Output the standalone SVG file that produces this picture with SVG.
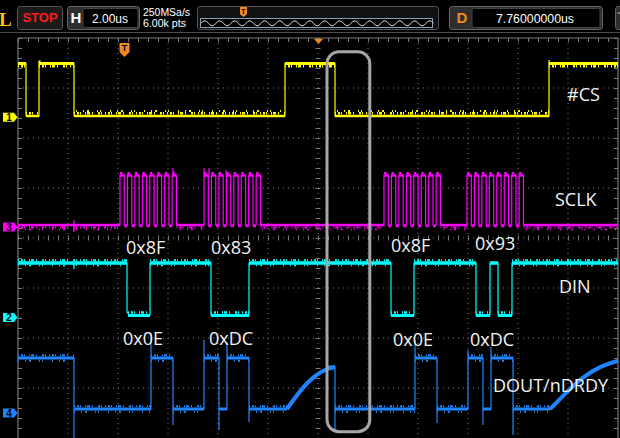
<svg xmlns="http://www.w3.org/2000/svg" width="620" height="438" viewBox="0 0 620 438">
<defs>
<style>
.grid{stroke:#7c7c7c;stroke-width:1;stroke-dasharray:1 4;fill:none}
.frame{stroke:#7a7a7a;stroke-width:1.2;fill:none}
.tick{stroke:#7a7a7a;stroke-dasharray:1 9;fill:none}
.edge{fill:none;stroke-width:1.2}
.n1{fill:none;stroke-dasharray:1 2 2 1 1 4 1 1 3 2 1 5 2 1 1 3}
.n2{fill:none;stroke-dasharray:1 6 1 3 2 8 1 2 1 9}
.lbl{font-family:"Open Sans","Noto Sans",sans-serif;font-size:18px;fill:#f2f2f2}
.ui{font-family:"Liberation Sans",Arial,sans-serif;fill:#fff}
.box{fill:#2e2e2e;stroke:#666;stroke-width:1}
.orange{fill:#f08a24}
.tag{font-family:"Liberation Sans",Arial,sans-serif;font-size:10px;font-weight:bold;fill:#000;text-anchor:middle}
.y{stroke:#ffff00}
.m{stroke:#ff00ff}
.c{stroke:#00ffff}
.b{stroke:#1f85ff}
</style>
</defs>
<rect x="0" y="0" width="620" height="438" fill="#000"/>

<g id="toolbar">
<line x1="0" y1="32.5" x2="620" y2="32.5" stroke="#4a4a4a" stroke-width="1"/>
<text x="-1" y="26" font-family="Liberation Serif,serif" font-weight="bold" font-size="19" fill="#f5c400">L</text>
<g id="stop-btn">
<rect x="17.5" y="6.5" width="45" height="23" rx="3" fill="#1a1a1a" stroke="#555"/>
<text x="40" y="22" class="ui" font-size="13" font-weight="bold" fill="#ff1a1a" text-anchor="middle" style="fill:#ff1a1a">STOP</text>
</g>
<g id="h-box">
<rect x="67.5" y="6.5" width="72" height="23" rx="3" class="box"/>
<rect x="83" y="8.5" width="55" height="19" rx="2" fill="#000" stroke="#444"/>
<text x="76" y="23" class="ui" font-size="15" font-weight="bold" text-anchor="middle">H</text>
<text x="110" y="23" class="ui" font-size="12" text-anchor="middle">2.00us</text>
</g>
<text x="143" y="16" class="ui" font-size="11" textLength="47" lengthAdjust="spacingAndGlyphs">250MSa/s</text>
<text x="143" y="27" class="ui" font-size="11" textLength="43" lengthAdjust="spacingAndGlyphs">6.00k pts</text>
<g id="overview">
<rect x="197.5" y="6.5" width="241" height="23" rx="3" fill="#111" stroke="#555"/>
<rect x="200.5" y="18.5" width="232" height="9" fill="#000" stroke="#8aa0b8" stroke-width="1"/>
<path d="M201,23.3q3.75,-5 7.5,0t7.5,0t7.5,0t7.5,0t7.5,0t7.5,0t7.5,0t7.5,0t7.5,0t7.5,0t7.5,0t7.5,0t7.5,0t7.5,0t7.5,0t7.5,0t7.5,0t7.5,0t7.5,0t7.5,0t7.5,0t7.5,0t7.5,0t7.5,0t7.5,0t7.5,0t7.5,0t7.5,0t7.5,0t7.5,0t7.5,0" fill="none" stroke="#e6e6e6" stroke-width="1"/>
<path d="M240,7H247V14L243.5,17L240,14Z" class="orange"/>
<text x="243.5" y="14" font-family="Liberation Sans,sans-serif" font-size="7" font-weight="bold" fill="#000" text-anchor="middle">T</text>
</g>
<g id="d-box">
<rect x="449.5" y="6.5" width="153" height="23" rx="3" class="box"/>
<rect x="472" y="8.5" width="128" height="19" rx="2" fill="#000" stroke="#444"/>
<text x="462" y="23" font-family="Liberation Sans,sans-serif" font-size="15" font-weight="bold" fill="#f08a24" text-anchor="middle">D</text>
<text x="535" y="23" class="ui" font-size="12" text-anchor="middle" textLength="78" lengthAdjust="spacingAndGlyphs">7.76000000us</text>
</g>
<rect x="615.5" y="6.5" width="20" height="23" rx="3" class="box"/>
<line x1="617" y1="13" x2="620" y2="13" stroke="#aaa" stroke-width="1"/>
</g>

<g id="graticule">
<path class="grid" d="M68,38V438M118,38V438M168,38V438M218,38V438M268,38V438M318,38V438M368,38V438M418,38V438M468,38V438M518,38V438M568,38V438M18,88H618M18,138H618M18,188H618M18,238H618M18,288H618M18,338H618M18,388H618"/>
<path class="frame" d="M18,438V38H618V438"/>
<line x1="18" y1="40" x2="618" y2="40" class="tick" stroke-width="4"/>
<line x1="20" y1="38" x2="20" y2="438" class="tick" stroke-width="4"/>
<line x1="616" y1="38" x2="616" y2="438" class="tick" stroke-width="4"/>
<line x1="18" y1="238" x2="618" y2="238" class="tick" stroke-width="5"/>
<line x1="318" y1="38" x2="318" y2="438" class="tick" stroke-width="5"/>
<path d="M119.5,43H129.5V52L124.5,57L119.5,52Z" class="orange"/>
<text x="124.5" y="51" font-family="Liberation Sans,sans-serif" font-size="9" font-weight="bold" fill="#000" text-anchor="middle">T</text>
<path d="M314,39H323L318.5,44Z" class="orange"/>
</g>

<g id="ch1-cs">
<path class="edge y" d="M18,63.5H26V116H39V61H40V63.5H74V68H74V116H285V63.5H335V116H549V60V63.5H618"/>
<path class="y" fill="none" stroke-width="3" d="M18,63.5H26M39,63.5H74M285,63.5H335M549,63.5H618"/>
<path class="y n1" stroke-width="2.4" d="M18,66.2H26M39,66.2H74M285,66.2H335M549,66.2H618"/>
<path class="y" fill="none" stroke-width="2.5" d="M26,116H39M74,116H285M335,116H549"/>
<path class="y n1" stroke-width="2.5" d="M26,113.2H39M74,113.2H285M335,113.2H549"/>
<path class="y n2" stroke-width="2" d="M76,111H285M337,111H549"/>
</g>

<g id="ch3-sclk">
<path class="edge m" d="M18,225H120V175h4.3V225h3.15V175h4.3V225h3.15V175h4.3V225h3.15V175h4.3V225h3.15V175h4.3V225h3.15V175h4.3V225h3.15V175h4.3V225h3.15V175h4.3V225H204V175h4.3V225h3.15V175h4.3V225h3.15V175h4.3V225h3.15V175h4.3V225h3.15V175h4.3V225h3.15V175h4.3V225h3.15V175h4.3V225h3.15V175h4.3V225H384V175h4.3V225h3.15V175h4.3V225h3.15V175h4.3V225h3.15V175h4.3V225h3.15V175h4.3V225h3.15V175h4.3V225h3.15V175h4.3V225h3.15V175h4.3V225H467V175h4.3V225h3.15V175h4.3V225h3.15V175h4.3V225h3.15V175h4.3V225h3.15V175h4.3V225h3.15V175h4.3V225h3.15V175h4.3V225h3.15V175h4.3V225H618"/>
<path class="m" fill="none" stroke-width="2.5" stroke-dasharray="4.3 3.15" d="M120,175.5H177M204,175.5H261M384,175.5H441M467,175.5H524"/>
<path class="m" fill="none" stroke-width="2" stroke-dasharray="2.5 4.95" d="M120,173H177M204,173H261M384,173H441M467,173H524"/>
<path class="m" fill="none" stroke-width="2.5" d="M18,225H120M176.45,225H204M260.45,225H384M440.45,225H467M523.45,225H618"/>
<path class="m" fill="none" stroke-width="2.5" stroke-dasharray="3.15 4.3" d="M124.3,226H172M208.3,226H256M388.3,226H436M471.3,226H519"/>
<path class="m n1" stroke-width="2" d="M18,227.5H120M176.45,227.5H204M260.45,227.5H384M440.45,227.5H467M523.45,227.5H618"/>
<path class="m n2" stroke-width="1.5" d="M18,229.5H120M180,229.5H204M262,229.5H384M443,229.5H467M526,229.5H618"/>
<path class="edge m" d="M74,220V232M173,168V175M121,172V175M204,168V175M209,168V175M226,170V175"/>
</g>

<g id="ch2-din">
<path class="edge c" d="M18,263H127V312L129,315H150V263H211V315H249V263H391V315H414V263H476V315H490V263H498V315H512V263H618"/>
<path class="c" fill="none" stroke-width="3.5" d="M18,263H127M150,263H211M249,263H391M414,263H476M490,263H498M512,263H618"/>
<path class="c n1" stroke-width="2" d="M18,260.3H127M150,260.3H211M249,260.3H391M414,260.3H476M512,260.3H618"/>
<path class="c n2" stroke-width="1.5" d="M18,265.6H127M150,265.6H211M249,265.6H391M414,265.6H476M512,265.6H618"/>
<path class="c" fill="none" stroke-width="3" d="M128,315.5H150M211,315.5H249M391,315.5H414M476,315.5H490M498,315.5H512"/>
<path class="c n1" stroke-width="2.5" d="M128,312.6H150M211,312.6H249M391,312.6H414M476,312.6H490M498,312.6H512"/>
<path class="edge c" d="M74,263V269"/>
</g>

<g id="ch4-dout">
<path class="edge b" d="M18,358H74V409H151V358H173V409H204V358H219V409H227V358H249V409H287C300,390 315,370 335,367V409H415V358H437V409H468V358H483V409H491V358H513V409H550C565,395 585,368 618,361"/>
<path class="edge b" d="M74,409V438M151,358V333M173,409V425M204,358V340M219,409V430M227,358V342M249,409V422M335,409V430M415,358V340M437,409V423M468,358V350M483,409V425M491,358V347M513,409V435"/>
<path class="b" fill="none" stroke-width="3" d="M18,358H74M151,358H173M204,358H219M227,358H249M415,358H437M468,358H483M491,358H513"/>
<path class="b n1" stroke-width="2" d="M18,355.3H74M151,355.3H173M204,355.3H219M227,355.3H249M415,355.3H437M468,355.3H483M491,355.3H513"/>
<path class="b n2" stroke-width="2" d="M18,360.8H74M151,360.8H173M204,360.8H219M227,360.8H249M415,360.8H437M468,360.8H483M491,360.8H513"/>
<path class="b" fill="none" stroke-width="3" d="M74,409H151M173,409H204M219,409H227M249,409H287M335,409H415M437,409H468M483,409H491M513,409H550"/>
<path class="b n1" stroke-width="2" d="M74,406.2H151M173,406.2H204M249,406.2H287M335,406.2H415M437,406.2H468M513,406.2H550"/>
<path class="b n2" stroke-width="2" d="M74,411.8H151M173,411.8H204M249,411.8H287M335,411.8H415M437,411.8H468M513,411.8H550"/>
<path class="b" fill="none" stroke-width="4" d="M287,409C300,390 315,370 335,367M550,409C565,395 585,368 618,361"/>
<path class="b" fill="none" stroke-width="3" d="M327,367H335"/>
</g>

<g id="channel-tags">
<path d="M3,112.7H14L17.5,117.2L14,121.7H3Z" fill="#ffff00"/>
<text x="9" y="120.8" class="tag">1</text>
<path d="M3,222.5H14L17.5,227L14,231.5H3Z" fill="#ff00ff"/>
<text x="9" y="230.6" class="tag">3</text>
<path d="M3,313H14L17.5,317.5L14,322H3Z" fill="#00ffff"/>
<text x="9" y="321.1" class="tag">2</text>
<path d="M3,408.5H14L17.5,413L14,417.5H3Z" fill="#1f85ff"/>
<text x="9" y="416.6" class="tag">4</text>
</g>

<g id="labels">
<text x="567" y="101" class="lbl">#CS</text>
<text x="555" y="206" class="lbl">SCLK</text>
<text x="559" y="293" class="lbl">DIN</text>
<text x="493" y="392" class="lbl">DOUT/nDRDY</text>
<text x="126" y="254" class="lbl">0x8F</text>
<text x="211" y="254" class="lbl">0x83</text>
<text x="123" y="345" class="lbl">0x0E</text>
<text x="209" y="345" class="lbl">0xDC</text>
<text x="391" y="252" class="lbl">0x8F</text>
<text x="475" y="250" class="lbl">0x93</text>
<text x="393" y="346" class="lbl">0x0E</text>
<text x="470" y="346" class="lbl">0xDC</text>
</g>

<g id="highlight">
<rect x="327" y="51.7" width="42.8" height="380" rx="12" fill="none" stroke="#a6a6a6" stroke-width="3"/>
</g>
</svg>
